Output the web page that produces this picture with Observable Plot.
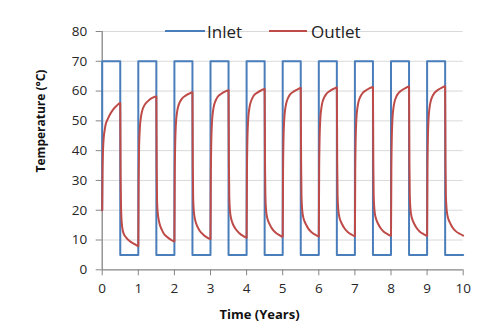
<!DOCTYPE html>
<html><head><meta charset="utf-8">
<script src="https://cdn.jsdelivr.net/npm/d3@7"></script>
<script src="https://cdn.jsdelivr.net/npm/@observablehq/plot@0.6"></script>
<style>
body{margin:0;background:#fff;}
#wrap{position:relative;width:480px;height:329px;font-family:"Open Sans",sans-serif;}
#legend{position:absolute;left:0;top:0;width:480px;height:0;}
.li{position:absolute;top:19px;height:24px;display:flex;align-items:center;font-size:17px;color:#222;}
.sw{display:inline-block;width:40px;height:2px;margin-right:2px;}
.title{position:absolute;font-weight:bold;color:#111;white-space:nowrap;line-height:1;}
</style></head>
<body><div id="wrap"><div id="legend">
<div class="li" style="left:165px"><span class="sw" style="background:#4a7ebb"></span>Inlet</div>
<div class="li" style="left:269px"><span class="sw" style="background:#be4b48;width:38px;margin-right:4px"></span>Outlet</div>
<div class="title" id="ytitle" style="font-size:12px;left:40.7px;top:121px;transform:translate(-50%,-50%) rotate(-90deg);">Temperature (°C)</div>
<div class="title" id="xtitle" style="font-size:13px;left:259.5px;top:314px;transform:translate(-50%,-50%);">Time (Years)</div>
</div></div>
<script>
const seriesNames = ["Inlet", "Outlet"];
const xTicks = [0,1,2,3,4,5,6,7,8,9,10];
const yTicks = [0,10,20,30,40,50,60,70,80];

// Inlet: square wave (time in years, temperature in °C)
const inletTimes  = [0,0,0.5,0.5,1,1,1.5,1.5,2,2,2.5,2.5,3,3,3.5,3.5,4,4,4.5,4.5,5,5,5.5,5.5,6,6,6.5,6.5,7,7,7.5,7.5,8,8,8.5,8.5,9,9,9.5,9.5,10];
const inletValues = [20,70,70,5,5,70,70,5,5,70,70,5,5,70,70,5,5,70,70,5,5,70,70,5,5,70,70,5,5,70,70,5,5,70,70,5,5,70,70,5,5];

// Outlet: sample offsets within each half-year
const halfOffsets = [0, 0.01, 0.02, 0.04, 0.07, 0.1, 0.15, 0.2, 0.3, 0.4];
// heating half (year k .. k+0.5)
const outletHeat = [
  [20, 33, 39, 44, 47, 49, 50.5, 51.8, 53.8, 55.1],
  [8.0, 30, 40, 47, 51, 53, 54.8, 55.8, 57, 57.8],
  [9.5, 32, 41, 48.6, 52.6, 54.6, 56.3, 57.3, 58.4, 59.1],
  [10.3, 32.8, 41.8, 49.3, 53.3, 55.3, 57.0, 58.1, 59.1, 59.8],
  [10.8, 33.3, 42.2, 49.7, 53.7, 55.7, 57.4, 58.5, 59.5, 60.2],
  [11.1, 33.6, 42.5, 50.0, 54.0, 56.0, 57.7, 58.8, 59.8, 60.5],
  [11.2, 33.7, 42.7, 50.2, 54.2, 56.2, 57.9, 58.9, 60.0, 60.7],
  [11.3, 33.8, 42.9, 50.4, 54.4, 56.4, 58.1, 59.1, 60.2, 60.9],
  [11.4, 33.9, 43.0, 50.5, 54.5, 56.5, 58.2, 59.2, 60.3, 61.0],
  [11.4, 34.0, 43.0, 50.6, 54.6, 56.6, 58.3, 59.3, 60.4, 61.1]
];
// cooling half (year k+0.5 .. k+1)
const outletCool = [
  [56.0, 32, 22, 16, 13.2, 12, 11, 10.3, 9.3, 8.6],
  [58.2, 34, 23, 19, 16.5, 15, 13.5, 12.3, 11.0, 10.1],
  [59.6, 35, 24, 19.5, 17, 15.6, 14.2, 13.1, 11.8, 10.9],
  [60.3, 35.5, 24.5, 19.8, 17.3, 16.0, 14.6, 13.6, 12.3, 11.4],
  [60.7, 36, 25, 20, 17.5, 16.3, 15.0, 13.9, 12.5, 11.7],
  [61.0, 36, 25, 20.1, 17.6, 16.4, 15.1, 14.0, 12.6, 11.8],
  [61.2, 36, 25, 20.2, 17.7, 16.5, 15.2, 14.1, 12.7, 11.9],
  [61.4, 36, 25, 20.3, 17.8, 16.6, 15.3, 14.2, 12.8, 12.0],
  [61.5, 36, 25, 20.3, 17.8, 16.6, 15.3, 14.2, 12.8, 12.0],
  [61.6, 36, 25, 20.4, 17.9, 16.7, 15.4, 14.3, 12.9, 12.1]
];
const outletEnd = 11.5;

const inlet = inletTimes.map((t, i) => ({t, v: inletValues[i]}));
const outlet = [];
outletHeat.forEach((arr, k) => {
  arr.forEach((v, i) => outlet.push({t: k + halfOffsets[i], v}));
  outletCool[k].forEach((v, i) => outlet.push({t: k + 0.5 + halfOffsets[i], v}));
});
outlet.push({t: 10, v: outletEnd});

const axisColor = "#868686";
const chart = Plot.plot({
  width: 480, height: 329,
  marginLeft: 101.7, marginRight: 17.3, marginTop: 31, marginBottom: 59.7,
  style: {fontFamily: "Open Sans, sans-serif", fontSize: "13px", color: "#262626", background: "white"},
  x: {domain: [0, 10], ticks: xTicks},
  y: {domain: [0, 80], ticks: yTicks},
  marks: [
    Plot.gridY(yTicks.filter(d => d > 0), {stroke: "#d9d9d9", strokeOpacity: 1, strokeWidth: 1}),
    Plot.axisY({ticks: yTicks, tickSize: 6, tickPadding: 9, stroke: axisColor, fontSize: 13.5, label: null}),
    Plot.axisX({ticks: xTicks, tickSize: 6, tickPadding: 8, stroke: axisColor, fontSize: 13.5, label: null}),
    Plot.ruleX([0], {stroke: axisColor, strokeWidth: 1.3}),
    Plot.ruleY([0], {stroke: axisColor, strokeWidth: 1.3}),
    Plot.line(inlet, {x: "t", y: "v", stroke: "#4a7ebb", strokeWidth: 2}),
    Plot.line(outlet, {x: "t", y: "v", stroke: "#be4b48", strokeWidth: 2, curve: "monotone-x"})
  ]
});
document.getElementById("wrap").insertBefore(chart, document.getElementById("legend"));
</script>
</body></html>
